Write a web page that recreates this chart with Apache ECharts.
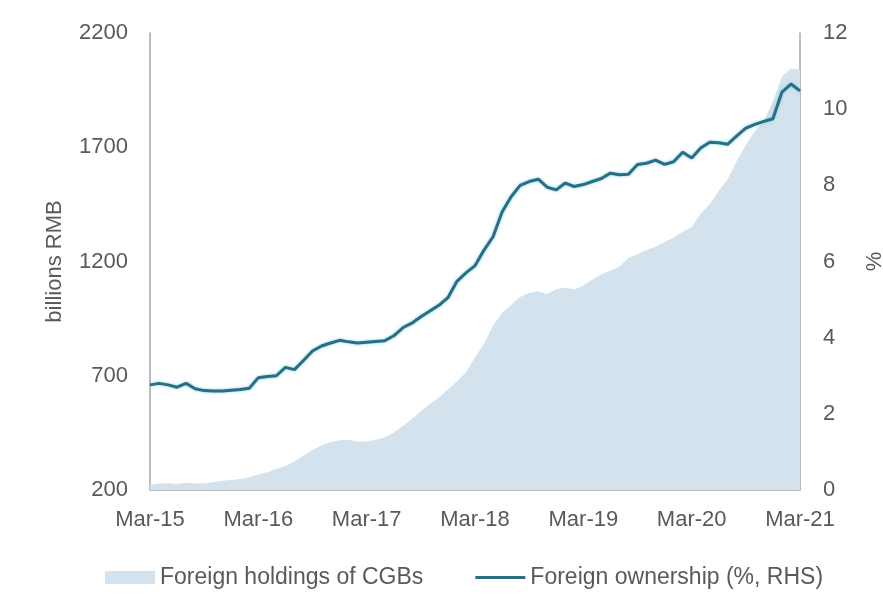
<!DOCTYPE html>
<html>
<head>
<meta charset="utf-8">
<script src="https://cdn.jsdelivr.net/npm/echarts@6/dist/echarts.min.js"></script>
<style>
html,body{margin:0;padding:0;background:#fff;overflow:hidden;}
#chart{width:883px;height:601px;}
</style>
</head>
<body>
<div id="chart"></div>
<script>
// Monthly categories Mar-15 .. Mar-21
const years = ['15','16','17','18','19','20','21'];
const monthNames = ['Jan','Feb','Mar','Apr','May','Jun','Jul','Aug','Sep','Oct','Nov','Dec'];
const categories = [];
for (let y = 0; y < years.length; y++) {
  for (let m = 0; m < 12; m++) {
    if (y === 0 && m < 2) continue;
    if (y === years.length - 1 && m > 2) break;
    categories.push(monthNames[m] + '-' + years[y]);
  }
}

// Foreign holdings of CGBs, billions RMB (left axis)
const holdings = [
  222, 228, 230, 226, 232, 228, 230, 234, 240, 244, 248, 256,
  268, 278, 292, 305, 325, 350, 375, 395, 410, 418, 420, 412,
  412, 420, 430, 452, 480, 510, 545, 575, 605, 640, 675, 715,
  780, 840, 920, 975, 1010, 1045, 1062, 1070, 1058, 1080, 1085, 1077,
  1095, 1120, 1145, 1160, 1178, 1215, 1232, 1250, 1265, 1285, 1305, 1330,
  1350, 1410, 1450, 1510, 1560, 1640, 1710, 1770, 1815, 1900, 2010, 2045,
  2040
];

// Foreign ownership, % (right axis)
const ownership = [
  2.76, 2.80, 2.76, 2.70, 2.80, 2.66, 2.61, 2.60, 2.60, 2.62, 2.64, 2.67,
  2.95, 2.98, 3.00, 3.22, 3.16, 3.40, 3.65, 3.78, 3.86, 3.93, 3.89, 3.86,
  3.88, 3.90, 3.92, 4.05, 4.26, 4.38, 4.55, 4.70, 4.85, 5.05, 5.48, 5.70,
  5.89, 6.30, 6.65, 7.30, 7.70, 8.00, 8.10, 8.16, 7.95, 7.88, 8.06, 7.97,
  8.02, 8.10, 8.18, 8.32, 8.28, 8.29, 8.55, 8.58, 8.66, 8.55, 8.62, 8.87,
  8.72, 8.98, 9.13, 9.12, 9.08, 9.30, 9.50, 9.60, 9.68, 9.75, 10.45, 10.66,
  10.48
];

const leftTicks = [200, 700, 1200, 1700, 2200];
const rightTicks = [0, 2, 4, 6, 8, 10, 12];

const textColor = '#595959';
const fontFamily = '"Liberation Sans", Arial, sans-serif';
const fontSize = 22;
const axisColor = '#a6a6a6';

const chart = echarts.init(document.getElementById('chart'), null, {renderer: 'canvas'});
chart.setOption({
  backgroundColor: '#ffffff',
  animation: false,
  textStyle: {fontFamily: fontFamily, color: textColor},
  grid: {left: 150, right: 83, top: 33, bottom: 111, containLabel: false, outerBoundsMode: 'none'},
  legend: {
    left: 100,
    top: 561,
    itemWidth: 50,
    itemHeight: 13,
    itemGap: 52,
    textStyle: {fontSize: 23, color: textColor, fontFamily: fontFamily},
    data: [
      {name: 'Foreign holdings of CGBs', icon: 'rect'},
      {name: 'Foreign ownership (%, RHS)', icon: 'path://M0,0L50,0L50,3L0,3Z'}
    ]
  },
  xAxis: {
    type: 'category',
    data: categories,
    boundaryGap: false,
    axisLine: {lineStyle: {color: axisColor, width: 1.5}},
    axisTick: {show: false},
    axisLabel: {
      interval: 11,
      margin: 19,
      fontSize: fontSize,
      color: textColor,
      fontFamily: fontFamily,
      showMaxLabel: true
    },
    splitLine: {show: false}
  },
  yAxis: [
    {
      type: 'value',
      min: leftTicks[0],
      max: leftTicks[leftTicks.length - 1],
      interval: 500,
      name: 'billions RMB',
      nameLocation: 'middle',
      nameGap: 84,
      nameRotate: 90,
      nameTextStyle: {fontSize: fontSize, color: textColor, fontFamily: fontFamily},
      axisLine: {show: true, lineStyle: {color: axisColor, width: 1.5}},
      axisTick: {show: false},
      axisLabel: {
        margin: 22,
        fontSize: fontSize,
        color: textColor,
        fontFamily: fontFamily,
        formatter: function (v) { return String(v); }
      },
      splitLine: {show: false}
    },
    {
      type: 'value',
      min: rightTicks[0],
      max: rightTicks[rightTicks.length - 1],
      interval: 2,
      name: '%',
      nameLocation: 'middle',
      nameGap: 64,
      nameRotate: 90,
      nameTextStyle: {fontSize: fontSize, color: textColor, fontFamily: fontFamily},
      axisLine: {show: true, lineStyle: {color: axisColor, width: 1.5}},
      axisTick: {show: false},
      axisLabel: {
        margin: 23,
        fontSize: fontSize,
        color: textColor,
        fontFamily: fontFamily,
        formatter: function (v) { return String(v); }
      },
      splitLine: {show: false}
    }
  ],
  series: [
    {
      name: 'Foreign holdings of CGBs',
      type: 'line',
      yAxisIndex: 0,
      data: holdings,
      symbol: 'none',
      smooth: false,
      itemStyle: {color: '#d3e2ec'},
      lineStyle: {width: 0, color: '#d3e2ec'},
      areaStyle: {color: '#d3e2ec', opacity: 1},
      z: 1
    },
    {
      name: 'Foreign ownership (%, RHS)',
      type: 'line',
      yAxisIndex: 1,
      data: ownership,
      symbol: 'none',
      itemStyle: {color: '#2b6e83'},
      lineStyle: {
        width: 3,
        color: '#2b6e83',
        shadowColor: 'rgba(90,200,230,0.8)',
        shadowBlur: 3
      },
      z: 3
    }
  ]
});
</script>
</body>
</html>
